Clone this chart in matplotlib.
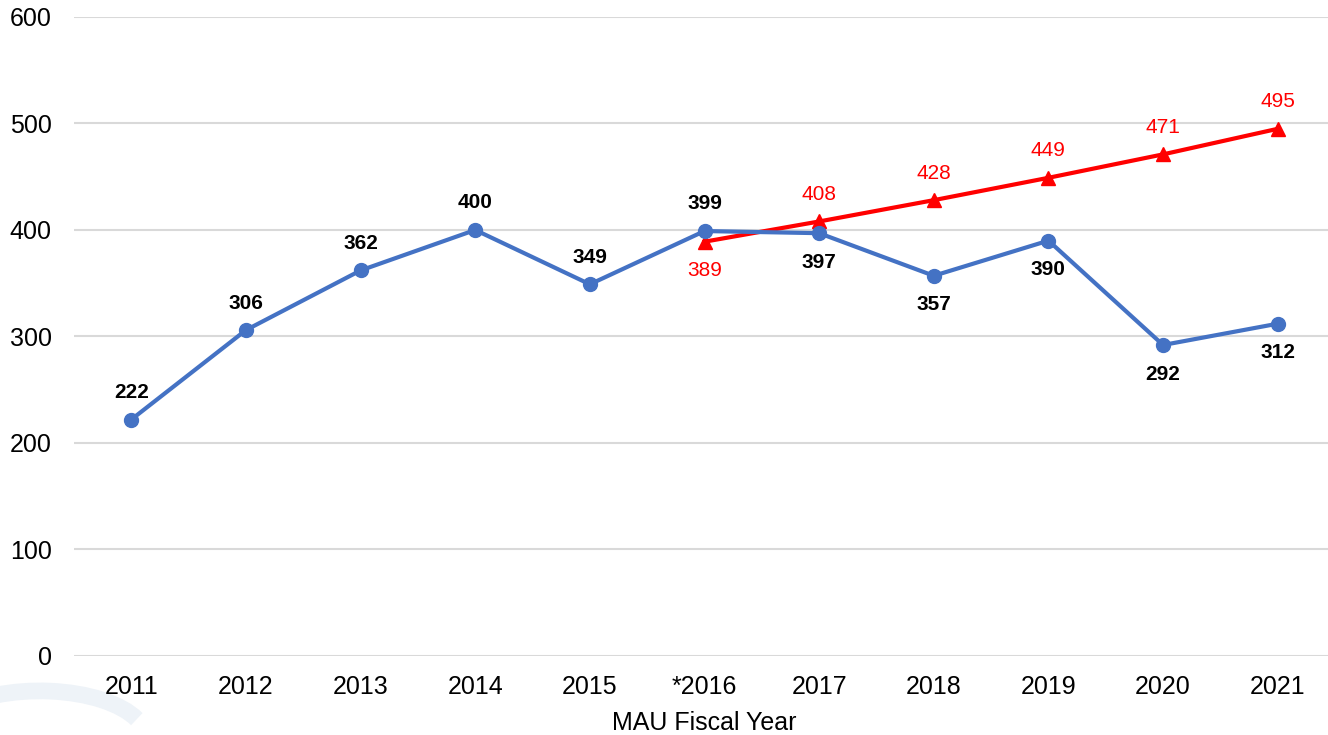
import matplotlib.pyplot as plt
from matplotlib.patches import Arc

years = ['2011', '2012', '2013', '2014', '2015', '*2016', '2017', '2018', '2019', '2020', '2021']
actual = [222, 306, 362, 400, 349, 399, 397, 357, 390, 292, 312]
target_years = ['*2016', '2017', '2018', '2019', '2020', '2021']
target = [389, 408, 428, 449, 471, 495]

blue = '#4472C4'
red = '#FF0000'
plt.rcParams['font.family'] = ['Liberation Sans', 'DejaVu Sans']

fig = plt.figure(figsize=(13.28, 7.35), dpi=100)
ax = fig.add_axes([0.0557, 0.1075, 0.9496, 0.8694])

# faint logo watermark in the lower left
fig.patches.append(Arc((0.03, -0.005), 0.16, 0.13, theta1=20, theta2=150,
                       transform=fig.transFigure, color='#eef3f8', lw=12, zorder=-1))

xa = list(range(len(years)))
xt = [years.index(y) for y in target_years]

ax.plot(xt, target, '-^', color=red, lw=3, ms=10, zorder=3)
ax.plot(xa, actual, '-o', color=blue, lw=3, ms=10, zorder=4)

# blue labels: above up to 2016, below afterwards
for i, v in enumerate(actual):
    off = 19.5 if i <= 5 else -21
    ax.annotate(str(v), (i, v), xytext=(0, off), textcoords='offset points',
                ha='center', va='center', fontsize=15, fontweight='bold', color='black')

for j, (i, v) in enumerate(zip(xt, target)):
    off = -21 if j == 0 else 19.5
    ax.annotate(str(v), (i, v), xytext=(0, off), textcoords='offset points',
                ha='center', va='center', fontsize=15, color=red)

ax.set_xlim(-0.5, len(years) - 0.5)
ax.set_ylim(0, 600)
ax.set_yticks(range(0, 601, 100))
ax.set_xticks(xa)
ax.set_xticklabels(years)
ax.grid(axis='y', color='#d9d9d9', lw=1.5)
ax.set_axisbelow(True)
for s in ax.spines.values():
    s.set_visible(False)
ax.tick_params(axis='both', length=0, labelsize=18)
ax.tick_params(axis='y', pad=16)
ax.tick_params(axis='x', pad=14)
ax.set_xlabel('MAU Fiscal Year', fontsize=18, labelpad=8)

fig.savefig('out.png', dpi=100)
